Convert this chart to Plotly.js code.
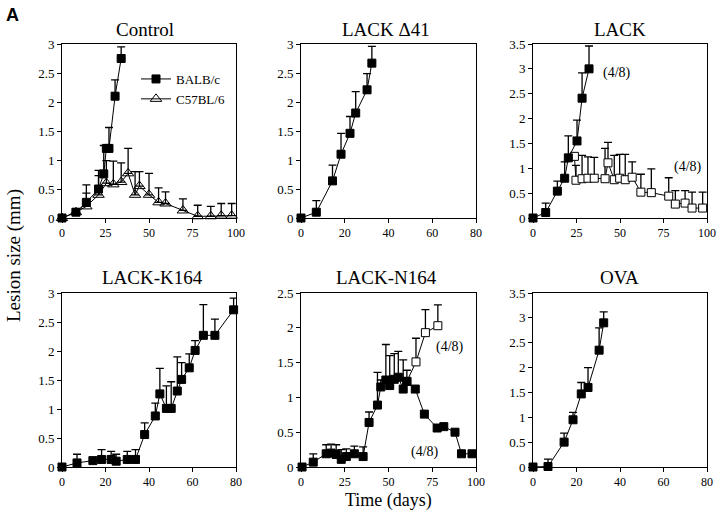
<!DOCTYPE html>
<html>
<head>
<meta charset="utf-8">
<script src="https://cdn.plot.ly/plotly-3.0.1.min.js"></script>
<style>
  body { margin: 0; background: #fff; }
  #plot { width: 720px; height: 512px; }
</style>
</head>
<body>
<div id="plot"></div>
<script>
// Control
const ctrlBalbX = [0, 8, 14, 21, 24, 25.5, 27, 30.5, 34];
const ctrlBalbY = [0, 0.1, 0.27, 0.5, 0.76, 1.2, 1.2, 2.1, 2.75];
const ctrlBalbErr = [0, 0.06, 0.3, 0.32, 0.49, 0.05, 0.36, 0.28, 0.2];
const ctrlB6X = [0, 8, 14, 21, 25.5, 29.5, 34, 38, 42, 44.5, 50, 55.5, 59.5, 69.5, 78, 85.5, 91.5, 97.5];
const ctrlB6Y = [0, 0.1, 0.2, 0.4, 0.6, 0.58, 0.62, 0.77, 0.4, 0.55, 0.4, 0.27, 0.25, 0.13, 0.03, 0.03, 0.04, 0.04];
const ctrlB6Err = [0, 0.05, 0.23, 0.33, 0.39, 0.4, 0.33, 0.43, 0.4, 0.25, 0.37, 0.25, 0.2, 0.2, 0.19, 0.17, 0.21, 0.21];

// LACK delta41
const d41X = [0, 7, 14.4, 18.3, 22.4, 25, 30.2, 32.4];
const d41Y = [0, 0.1, 0.64, 1.1, 1.46, 1.81, 2.21, 2.67];
const d41Err = [0, 0.2, 0.27, 0.36, 0.29, 0.37, 0.28, 0.29];

// LACK
const lackX = [0, 7.3, 14, 18.2, 20.3, 25.3, 28.2, 32.2];
const lackY = [0, 0.11, 0.54, 0.8, 1.21, 1.55, 2.41, 3.0];
const lackErr = [0, 0.19, 0.2, 0.33, 0.44, 0.42, 0.51, 0.46];
const lackOpenX = [23.8, 24.7, 28.2, 31.6, 35.2, 41.4, 43.1, 46.7, 49.8, 53, 57, 62, 68, 78, 81.8, 87.4, 91.4, 97.5];
const lackOpenY = [1.24, 0.76, 0.79, 0.8, 0.8, 0.79, 1.11, 0.77, 0.8, 0.77, 0.82, 0.52, 0.51, 0.44, 0.28, 0.3, 0.2, 0.2];
const lackOpenErr = [0, 0.3, 0.47, 0.43, 0.42, 0.61, 0.41, 0.49, 0.48, 0.51, 0.31, 0.36, 0.48, 0.37, 0.27, 0.25, 0.32, 0.32];

// LACK-K164
const k164X = [0, 6.9, 14.2, 18.2, 22.6, 24.9, 30, 33.8, 38, 42.9, 45, 48, 50.2, 53, 55, 58.5, 61.2, 65, 70.3, 78.9];
const k164Y = [0, 0.07, 0.11, 0.13, 0.13, 0.1, 0.13, 0.13, 0.56, 0.88, 1.26, 1.01, 1.01, 1.31, 1.51, 1.71, 2.01, 2.27, 2.27, 2.71];
const k164Err = [0, 0.15, 0, 0.17, 0.14, 0.12, 0.14, 0.17, 0.2, 0.22, 0.44, 0.39, 0.46, 0.59, 0.29, 0.24, 0.17, 0.53, 0.28, 0.2];

// LACK-N164
const n164X = [0.6, 7, 14.4, 17.2, 20.1, 23, 25.9, 30.5, 35.5, 38.9, 43.7, 45.6, 48.5, 50.7, 53.3, 55.6, 58.4, 60.5, 65.3, 70.5, 77.8, 81.6, 88, 91.7, 97.7];
const n164Y = [0, 0.07, 0.19, 0.2, 0.18, 0.11, 0.15, 0.19, 0.15, 0.64, 0.89, 1.15, 1.25, 1.17, 1.26, 1.29, 1.12, 1.23, 1.12, 0.76, 0.56, 0.58, 0.5, 0.19, 0.19];
const n164Err = [0, 0.12, 0.13, 0.13, 0.14, 0.14, 0.11, 0.11, 0.14, 0.15, 0.47, 0.1, 0.51, 0.43, 0.37, 0.37, 0.42, 0.16, 0, 0, 0, 0, 0, 0, 0];
const n164OpenX = [60.5, 65.7, 71.1, 78.2];
const n164OpenY = [1.23, 1.51, 1.93, 2.03];
const n164OpenErr = [0, 0.34, 0.33, 0.3];

// OVA
const ovaX = [0, 6.9, 14.3, 18.4, 22.2, 25.3, 30.4, 32.5];
const ovaY = [0, 0.01, 0.5, 0.95, 1.47, 1.6, 2.35, 2.9];
const ovaErr = [0, 0.15, 0.18, 0.15, 0.23, 0.4, 0.45, 0.22];

const serif = "'Liberation Serif', 'Times New Roman', serif";

function series(x, y, err, ax, opts) {
  return Object.assign({
    x: x, y: y,
    xaxis: 'x' + ax, yaxis: 'y' + ax,
    type: 'scatter', mode: 'lines+markers',
    cliponaxis: false,
    showlegend: false,
    line: { color: '#000', width: 1 },
    marker: { symbol: 'square', size: 8, color: '#000', line: { color: '#000', width: 1 } },
    error_y: { type: 'data', symmetric: false, array: err, arrayminus: err.map(() => 0),
               color: '#000', thickness: 1.3, width: 4 }
  }, opts || {});
}

const openSq = { symbol: 'square', size: 8, color: '#fff', line: { color: '#000', width: 1 } };

const traces = [
  series(ctrlBalbX, ctrlBalbY, ctrlBalbErr, '', { name: 'BALB/c', showlegend: true }),
  series(ctrlB6X, ctrlB6Y, ctrlB6Err, '', { name: 'C57BL/6', showlegend: true,
    marker: { symbol: 'triangle-up-open', size: 10, color: '#000', line: { width: 1 } } }),
  series(d41X, d41Y, d41Err, '2'),
  series(lackOpenX, lackOpenY, lackOpenErr, '3', { marker: openSq }),
  series(lackX, lackY, lackErr, '3'),
  series(k164X, k164Y, k164Err, '4'),
  series(n164OpenX, n164OpenY, n164OpenErr, '5', { marker: openSq }),
  series(n164X, n164Y, n164Err, '5'),
  series(ovaX, ovaY, ovaErr, '6')
];

const cols = [[62 / 720, 236 / 720], [301 / 720, 476 / 720], [533 / 720, 707 / 720]];
const rows = [[1 - 218 / 512, 1 - 44 / 512], [1 - 467 / 512, 1 - 293 / 512]];

function xa(col, row, max, dt) {
  return { domain: cols[col], anchor: 'y' + (row * 3 + col === 0 ? '' : row * 3 + col + 1),
    range: [0, max], dtick: dt, tick0: 0, showgrid: false, zeroline: false,
    showline: true, mirror: true, linecolor: '#000', linewidth: 1,
    ticks: 'outside', ticklen: 4, tickcolor: '#000',
    tickfont: { family: serif, size: 12, color: '#000' } };
}
function ya(col, row, max) {
  return { domain: rows[row], anchor: 'x' + (row * 3 + col === 0 ? '' : row * 3 + col + 1),
    range: [0, max], dtick: 0.5, tick0: 0, showgrid: false, zeroline: false,
    showline: true, mirror: true, linecolor: '#000', linewidth: 1,
    ticks: 'outside', ticklen: 4, tickcolor: '#000',
    tickfont: { family: serif, size: 13, color: '#000' } };
}

const titles = [['Control', 145, 29], ['LACK \u039441', 386, 29], ['LACK', 620, 29],
                ['LACK-K164', 152, 277], ['LACK-N164', 386, 277], ['OVA', 619, 277]];

function note(text, px, py, size, extra) {
  return Object.assign({ text: text, x: px / 720, y: 1 - py / 512, xref: 'paper', yref: 'paper',
    xanchor: 'center', yanchor: 'middle', showarrow: false,
    font: { family: serif, size: size, color: '#000' } }, extra || {});
}

const annotations = titles.map(t => note(t[0], t[1], t[2], 19));
[['(4/8)', 617, 73], ['(4/8)', 688, 167], ['(4/8)', 450, 347], ['(4/8)', 425, 452]].forEach(a => {
  annotations.push(note(a[0], a[1], a[2], 14));
});
annotations.push(note('<b>A</b>', 12, 15, 18,
  { font: { family: "'Liberation Sans', Arial, sans-serif", size: 18, color: '#000' } }));
annotations.push(note('Lesion size (mm)', 14, 256, 19, { textangle: -90 }));
annotations.push(note('Time (days)', 388, 500, 18, { borderpad: 0 }));

const layout = {
  width: 720, height: 512,
  margin: { l: 0, r: 0, t: 0, b: 0 },
  paper_bgcolor: '#fff', plot_bgcolor: '#fff',
  showlegend: true,
  legend: { x: 136 / 720, y: 1 - 64 / 512, xanchor: 'left', yanchor: 'top',
    bgcolor: 'rgba(0,0,0,0)', font: { family: serif, size: 13, color: '#000' },
    tracegroupgap: 2, itemwidth: 30 },
  xaxis: xa(0, 0, 100, 25), yaxis: ya(0, 0, 3),
  xaxis2: xa(1, 0, 80, 20), yaxis2: ya(1, 0, 3),
  xaxis3: xa(2, 0, 100, 25), yaxis3: ya(2, 0, 3.5),
  xaxis4: xa(0, 1, 80, 20), yaxis4: ya(0, 1, 3),
  xaxis5: xa(1, 1, 100, 25), yaxis5: ya(1, 1, 2.5),
  xaxis6: xa(2, 1, 80, 20), yaxis6: ya(2, 1, 3.5),
  annotations: annotations
};

Plotly.newPlot('plot', traces, layout, { displayModeBar: false });
</script>
</body>
</html>
